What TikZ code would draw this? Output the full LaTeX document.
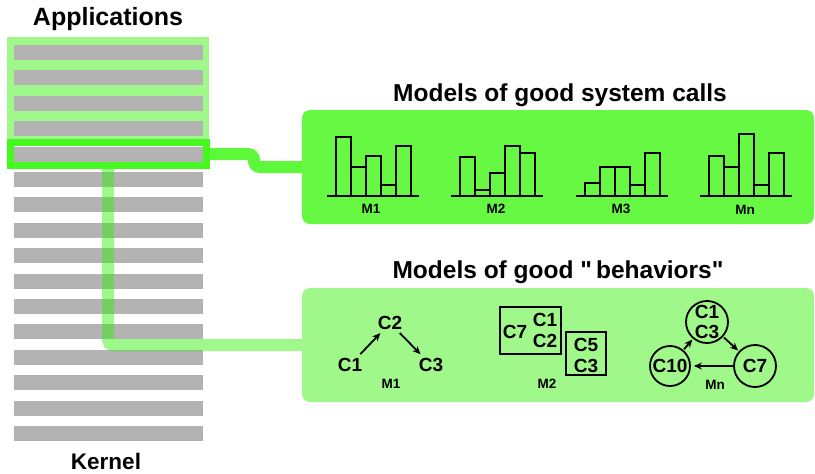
\documentclass[tikz,border=0pt]{standalone}
\usepackage{fontspec}
\setmainfont{Liberation Sans}
\usetikzlibrary{arrows.meta}
\definecolor{lightg}{HTML}{A0F88A}
\definecolor{darkg}{HTML}{44F820}
\definecolor{boxg}{HTML}{66F843}
\definecolor{conng}{HTML}{5EF83A}
\definecolor{barg}{HTML}{B3B3B3}
\definecolor{translg}{RGB}{42,240,0}
\pgfdeclarelayer{bg}
\pgfdeclarelayer{mid}
\pgfsetlayers{bg,mid,main}
\newcommand{\myhist}[6]{%
  \draw[histline] (#1,196) -- ++(92,0);
  \foreach \tp [count=\k from 0] in {#2,#3,#4,#5,#6}
    \draw[histline] ({#1+9+15*\k},196) rectangle ({#1+24+15*\k},\tp);
}
\begin{document}
\begin{tikzpicture}[x=1pt,y=-1pt,
  title/.style={font=\fontsize{24.5}{24.5}\selectfont\bfseries, inner sep=0},
  side/.style={font=\fontsize{25}{25}\selectfont\bfseries, inner sep=0},
  clab/.style={font=\fontsize{19}{20}\selectfont\bfseries, inner sep=1, align=center},
  mlab/.style={font=\fontsize{13.5}{13.5}\selectfont\bfseries, inner sep=0},
  histline/.style={draw=black, line width=2},
  modelbox/.style={rounded corners=8, minimum width=512, minimum height=114, inner sep=0},
  arr/.style={-{Stealth[length=8, width=7]}, line width=1.8},
  ring/.style={circle, draw, line width=1.8, minimum size=42, inner sep=0, font=\fontsize{19}{20}\selectfont\bfseries, align=center},
  grp/.style={draw, line width=1.8, inner sep=0}]
\useasboundingbox (0,0) rectangle (815,474);

% labels
\node[side] (apps) at (108,19) {Applications};
\node[side, font=\fontsize{22.5}{22.5}\selectfont\bfseries] (kern) at (106,461) {Kernel};

% selected row frame
\node[draw=darkg, line width=7, minimum width=195.5, minimum height=23, inner sep=0] (sel) at (108.25,154) {};

% model boxes
\node[modelbox, fill=boxg] (sysbox) at (558,167) {};
\node[modelbox, fill=lightg] (behbox) at (558,345) {};
\node[title] (systitle) at (560,95) {Models of good system calls};
\node[title] (behtitle) at (558,272) {Models of good \textquotedbl\,behaviors\textquotedbl};

% histograms
\myhist{327}{137}{167}{156}{185}{146}
\myhist{451}{157}{190}{173}{146}{153}
\myhist{576}{183}{167}{167}{185}{153}
\myhist{700}{156}{167}{134}{185}{153}
\node[mlab] (h1) at (371,209) {M1};
\node[mlab] (h2) at (496,209) {M2};
\node[mlab] (h3) at (621,209) {M3};
\node[mlab] (hn) at (745,210) {Mn};

% behaviour M1
\node[clab] (b2) at (390,323) {C2};
\node[clab] (b1) at (350,365) {C1};
\node[clab] (b3) at (431,365) {C3};
\draw[arr, shorten <=4, shorten >=3] (b1) -- (b2);
\draw[arr, shorten <=3, shorten >=4] (b2) -- (b3);
\node[mlab] (g1) at (391,384) {M1};

% behaviour M2
\node[grp, minimum width=61, minimum height=47] (r1) at (530.5,330.5) {};
\node[grp, minimum width=40, minimum height=43] (r2) at (586,353.5) {};
\node[clab] (t7) at (515,332) {C7};
\node[clab] (t1) at (545,320) {C1};
\node[clab] (t2) at (545,341) {C2};
\node[clab] (t5) at (586,345) {C5};
\node[clab] (t3) at (586,366) {C3};
\node[mlab] (g2) at (547,384) {M2};

% behaviour Mn
\node[ring] (n13) at (707,322) {C1\\C3};
\node[ring, minimum size=40] (n10) at (670,366) {C10};
\node[ring] (n7) at (755,366) {C7};
\draw[arr, shorten <=1, shorten >=1] (n10) -- (n13);
\draw[arr, shorten <=1, shorten >=1] (n13) -- (n7);
\draw[arr, shorten <=0, shorten >=3] (n7) -- (n10);
\node[mlab] (gn) at (715,385) {Mn};

% connectors
\begin{pgfonlayer}{mid}
\draw[conng, line width=12, rounded corners=6] (sel.east) -- (254,154) -- (254,167) -- (sysbox.west);
\draw[translg, draw opacity=0.45, line width=12, rounded corners=5] (sel.south) -- (108,345) -- (behbox.west);
\end{pgfonlayer}

% application / kernel rows
\begin{pgfonlayer}{bg}
\fill[lightg] (7,37) rectangle (209,139);
\foreach \i in {0,...,15}
  \fill[barg] (14,{45+25.4*\i}) rectangle (203,{60+25.4*\i});
\end{pgfonlayer}
\end{tikzpicture}
\end{document}
